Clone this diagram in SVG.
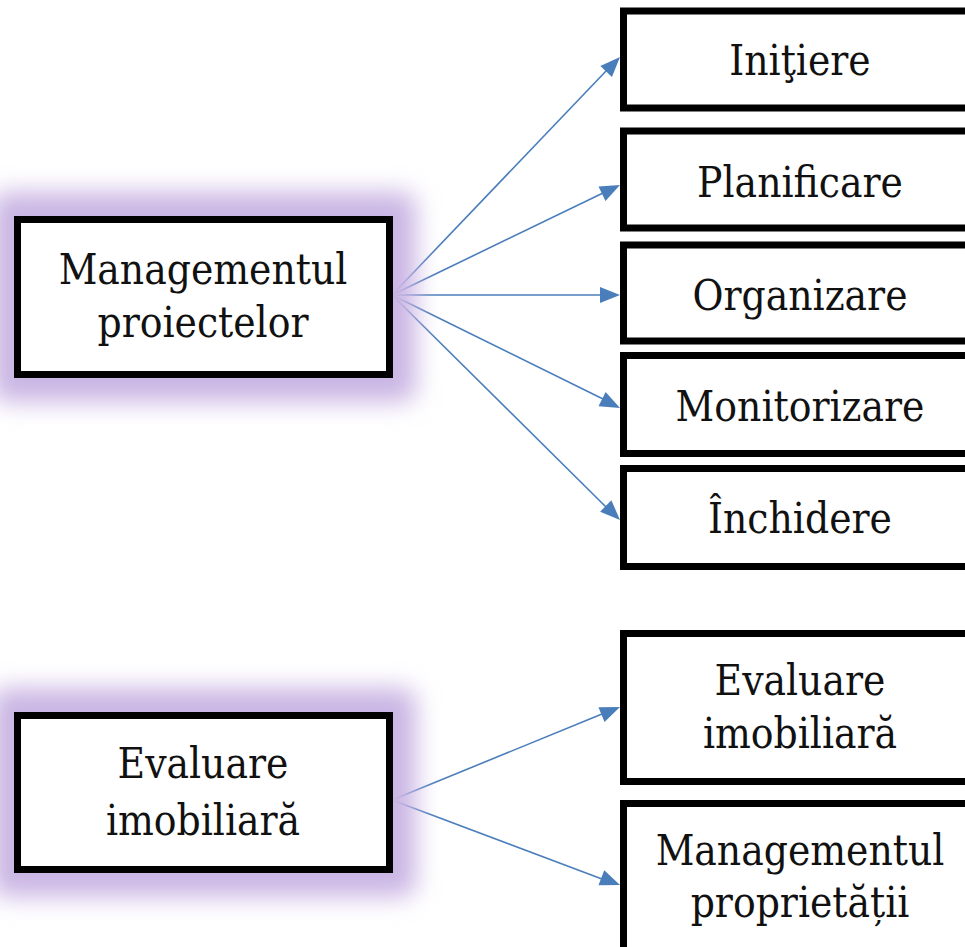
<svg xmlns="http://www.w3.org/2000/svg" width="965" height="947" viewBox="0 0 965 947">
<style>
.box{fill:#fff;stroke:#000;stroke-width:7}
.glow{fill:#cab5e4;filter:url(#blur)}
text{font-family:'DejaVu Serif Condensed','DejaVu Serif',serif;font-stretch:condensed;font-size:42px;fill:#111;text-anchor:middle}
.c{stroke:#4a7ebb;stroke-width:1.6;fill:none}
.ah{fill:#4a7ebb}
</style>
<defs>
<filter id="blur" x="-30%" y="-50%" width="160%" height="200%"><feGaussianBlur stdDeviation="12"/></filter>
<path id="head" d="M0,0 L-20,-8 L-20,8 Z"/>
</defs>
<rect width="965" height="947" fill="#fff"/>
<g id="connectors">
<line class="c" x1="392" y1="295" x2="607" y2="70"/>
<line class="c" x1="392" y1="295" x2="603" y2="193"/>
<line class="c" x1="392" y1="295" x2="601" y2="295"/>
<line class="c" x1="392" y1="295" x2="603" y2="399"/>
<line class="c" x1="392" y1="295" x2="606" y2="507"/>
<line class="c" x1="392" y1="800" x2="602" y2="714"/>
<line class="c" x1="392" y1="800" x2="602" y2="879"/>
<use class="ah" href="#head" transform="translate(620,57) rotate(-46.2)"/>
<use class="ah" href="#head" transform="translate(620,185) rotate(-25.8)"/>
<use class="ah" href="#head" transform="translate(620,295)"/>
<use class="ah" href="#head" transform="translate(620,408) rotate(26.4)"/>
<use class="ah" href="#head" transform="translate(620,520) rotate(44.6)"/>
<use class="ah" href="#head" transform="translate(620,707) rotate(-22.2)"/>
<use class="ah" href="#head" transform="translate(620,885) rotate(21.2)"/>
</g>
<g id="n-management">
<rect class="glow" x="-8" y="192" width="424" height="210" rx="14"/>
<rect class="box" x="17.5" y="219.5" width="372" height="155"/>
<text x="203" y="284">Managementul</text>
<text x="203" y="337">proiectelor</text>
</g>
<g id="n-evaluare">
<rect class="glow" x="-8" y="688" width="424" height="209" rx="14"/>
<rect class="box" x="17.5" y="715.5" width="372" height="154"/>
<text x="203" y="778">Evaluare</text>
<text x="203" y="835">imobiliară</text>
</g>
<g id="n-initiere">
<rect class="box" x="623.5" y="11" width="360" height="97"/>
<text x="800" y="75">Iniţiere</text>
</g>
<g id="n-planificare">
<rect class="box" x="623.5" y="131" width="360" height="97"/>
<text x="800" y="197">Planificare</text>
</g>
<g id="n-organizare">
<rect class="box" x="623.5" y="245" width="360" height="96"/>
<text x="800" y="310">Organizare</text>
</g>
<g id="n-monitorizare">
<rect class="box" x="623.5" y="355.5" width="360" height="98"/>
<text x="800" y="421">Monitorizare</text>
</g>
<g id="n-inchidere">
<rect class="box" x="623.5" y="468.5" width="360" height="98"/>
<text x="800" y="533">Închidere</text>
</g>
<g id="n-evaluare2">
<rect class="box" x="623.5" y="633.5" width="360" height="148"/>
<text x="800" y="695">Evaluare</text>
<text x="800" y="748">imobiliară</text>
</g>
<g id="n-proprietate">
<rect class="box" x="623.5" y="803.5" width="360" height="160"/>
<text x="800" y="865">Managementul</text>
<text x="800" y="917">proprietății</text>
</g>
</svg>
